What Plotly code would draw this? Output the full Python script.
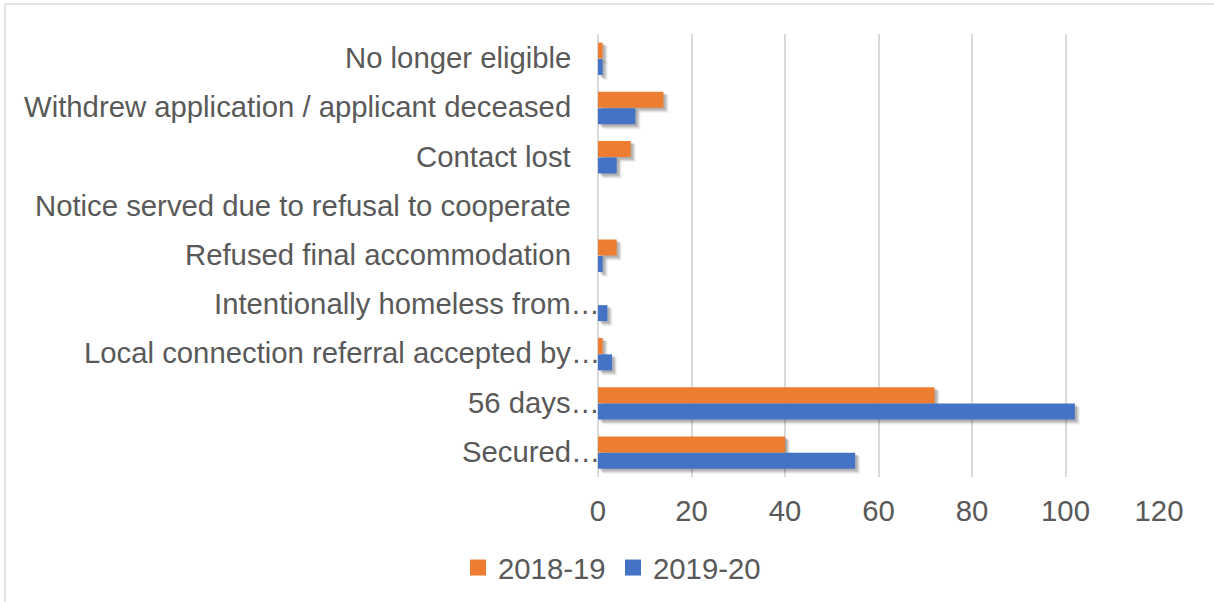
import plotly.graph_objects as go

# Outcome categories, listed bottom to top as drawn on the axis
categories = [
    "Secured…",
    "56 days…",
    "Local connection referral accepted by…",
    "Intentionally homeless from…",
    "Refused final accommodation",
    "Notice served due to refusal to cooperate",
    "Contact lost",
    "Withdrew application / applicant deceased",
    "No longer eligible",
]
values_2018_19 = [40, 72, 1, 0, 4, 0, 7, 14, 1]
values_2019_20 = [55, 102, 3, 2, 1, 0, 4, 8, 1]
x_ticks = [0, 20, 40, 60, 80, 100, 120]

series = [
    ("2019-20", values_2019_20, "#4472C4", -1 / 3),
    ("2018-19", values_2018_19, "#ED7D31", 0.0),
]

W, H = 1214, 602
L, R, T, B = 598, 55, 34, 125
PW, PH = W - L - R, H - T - B
FONT = "Liberation Sans, Arial, sans-serif"
FS = 29.3
TXT = "#595959"
BAR_W = 0.325

fig = go.Figure()

# soft drop shadows under each bar (offset down/right, layered for a blur look)
px_x = 120 / PW              # data units per pixel along x
px_y = len(categories) / PH  # category units per pixel along y
for name, vals, color, off in series:
    for d, a in [(5, 0.06), (4, 0.08), (3, 0.10), (2, 0.10)]:
        fig.add_trace(go.Bar(
            y=categories, x=vals, base=[d * px_x] * len(vals),
            orientation="h", width=BAR_W + 0.3 * d * px_y,
            offset=off - d * px_y,
            marker=dict(color=f"rgba(0,0,0,{a})", line=dict(width=0)),
            showlegend=False, hoverinfo="skip",
        ))

for name, vals, color, off in series:
    fig.add_trace(go.Bar(
        y=categories, x=vals, orientation="h", name=name,
        width=BAR_W, offset=off,
        marker=dict(color=color, line=dict(width=0)),
        showlegend=False,
    ))

# legend entries
for rank, (name, color) in enumerate([("2018-19", "#ED7D31"), ("2019-20", "#4472C4")]):
    fig.add_trace(go.Scatter(
        x=[None], y=[None], mode="markers", name=name,
        marker=dict(symbol="square", size=16, color=color),
        legendrank=rank + 1,
    ))

# category labels; an ellipsis hangs past the right edge of the text
annotations = []
for c in categories:
    trunc = c.endswith("…")
    annotations.append(dict(
        xref="paper", yref="y", x=0, y=c, text=c, showarrow=False,
        xanchor="right", yanchor="middle", xshift=4 if trunc else -25,
        yshift=1, font=dict(family=FONT, size=FS, color=TXT),
    ))

def px2x(p):
    return (p - L) / PW

def px2y(p):
    return (H - B - p) / PH

shapes = [
    dict(type="line", xref="paper", yref="paper", x0=px2x(5), x1=px2x(W + 5),
         y0=px2y(4), y1=px2y(4), line=dict(color="#d9d9d9", width=1.5)),
    dict(type="line", xref="paper", yref="paper", x0=px2x(5), x1=px2x(5),
         y0=px2y(4), y1=px2y(H + 5), line=dict(color="#d9d9d9", width=1.5)),
]

fig.update_layout(
    width=W, height=H,
    margin=dict(l=L, r=R, t=T, b=B, autoexpand=False),
    paper_bgcolor="white", plot_bgcolor="white",
    barmode="overlay",
    font=dict(family=FONT, size=FS, color=TXT),
    xaxis=dict(
        range=[0, 120], tickvals=x_ticks, showgrid=True,
        gridcolor="#d9d9d9", gridwidth=1.5, zeroline=True,
        zerolinecolor="#d9d9d9", zerolinewidth=1.5, showline=False,
        ticks="", ticklabelstandoff=14, automargin=False,
        tickfont=dict(family=FONT, size=FS, color=TXT),
    ),
    yaxis=dict(
        type="category", categoryorder="array", categoryarray=categories,
        range=[-0.5, len(categories) - 0.5], automargin=False,
        showticklabels=False, showgrid=False, zeroline=False, ticks="",
    ),
    legend=dict(
        orientation="h", x=px2x(458), y=px2y(568), xanchor="left",
        yanchor="middle", font=dict(family=FONT, size=FS, color=TXT),
        bgcolor="rgba(0,0,0,0)", entrywidth=110,
    ),
    annotations=annotations,
    shapes=shapes,
)

fig.write_html("out.html")
